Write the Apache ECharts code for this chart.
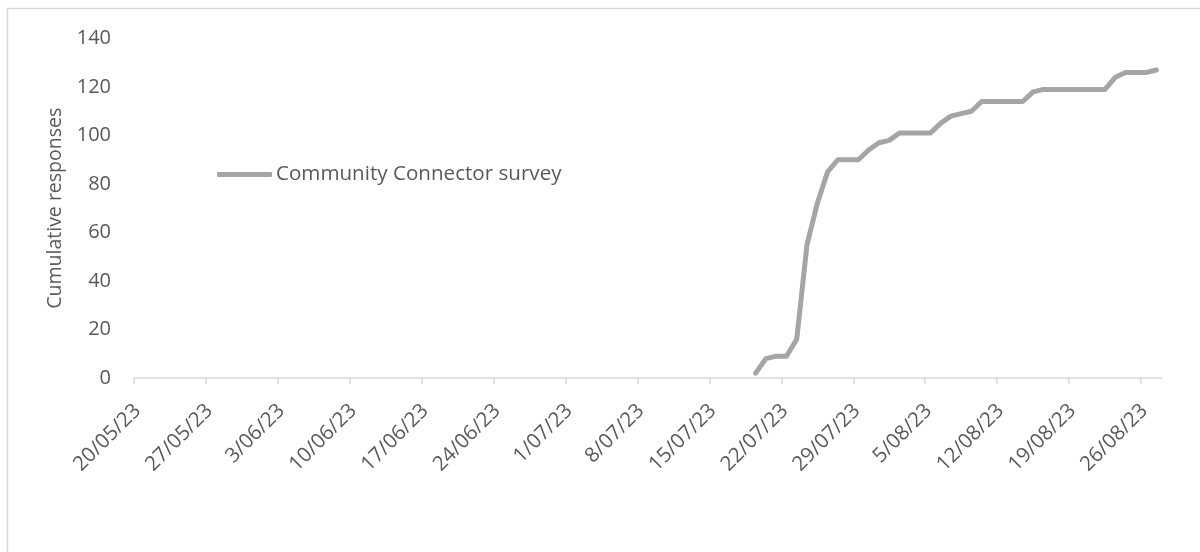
<!DOCTYPE html>
<html>
<head>
<meta charset="utf-8">
<script src="https://cdn.jsdelivr.net/npm/echarts@6/dist/echarts.min.js"></script>
<style>
  html, body { margin: 0; padding: 0; background: #fff; }
  #chart { width: 1200px; height: 552px; }
</style>
</head>
<body>
<div id="chart"></div>
<script>
// ---- data ----
const seriesName = 'Community Connector survey';
const axisStart = '20/05/23';
const axisDays = 100;
const tickStepDays = 7;
const tickLabels = ['20/05/23','27/05/23','3/06/23','10/06/23','17/06/23','24/06/23','1/07/23','8/07/23','15/07/23','22/07/23','29/07/23','5/08/23','12/08/23','19/08/23','26/08/23'];
const dates = ['19/07/23','20/07/23','21/07/23','22/07/23','23/07/23','24/07/23','25/07/23','26/07/23','27/07/23','28/07/23','29/07/23','30/07/23','31/07/23','1/08/23','2/08/23','3/08/23','4/08/23','5/08/23','6/08/23','7/08/23','8/08/23','9/08/23','10/08/23','11/08/23','12/08/23','13/08/23','14/08/23','15/08/23','16/08/23','17/08/23','18/08/23','19/08/23','20/08/23','21/08/23','22/08/23','23/08/23','24/08/23','25/08/23','26/08/23','27/08/23'];
const responses = [2,8,9,9,16,55,72,85,90,90,90,94,97,98,101,101,101,101,105,108,109,110,114,114,114,114,114,118,119,119,119,119,119,119,119,124,126,126,126,127];
const yTicks = [0,20,40,60,80,100,120,140];

// ---- helpers ----
function dayNum(s) {
  const p = s.split('/').map(Number);
  return Date.UTC(2000 + p[2], p[1] - 1, p[0]) / 86400000;
}
const d0 = dayNum(axisStart);
const lineData = dates.map((d, i) => [dayNum(d) - d0 + 0.5, responses[i]]);
const tickValues = tickLabels.map((_, i) => i * tickStepDays);

const FONT = '"Open Sans", sans-serif';
const TXT = '#595959';

const chart = echarts.init(document.getElementById('chart'), null, { renderer: 'canvas' });
chart.setOption({
  animation: false,
  backgroundColor: '#ffffff',
  graphic: [{
    type: 'rect',
    shape: { x: 7.5, y: 8.5, width: 1400, height: 800 },
    style: { fill: 'none', stroke: '#D9D9D9', lineWidth: 1.5 },
    silent: true
  }],
  grid: { left: 134, right: 38.5, top: 38.5, bottom: 174, containLabel: false },
  legend: {
    left: 217, top: 164, padding: 0,
    itemWidth: 55, itemHeight: 5, itemGap: 10,
    icon: 'roundRect',
    data: [{ name: seriesName, itemStyle: { color: '#A5A5A5' } }],
    textStyle: { fontFamily: FONT, fontSize: 20.6, color: TXT, padding: [0, 0, 0, -1] }
  },
  xAxis: {
    type: 'value',
    min: 0, max: axisDays,
    interval: tickStepDays,
    axisLine: { show: true, lineStyle: { color: '#D9D9D9', width: 1.5 } },
    axisTick: { show: true, length: 6, lineStyle: { color: '#D9D9D9', width: 1.5 }, customValues: tickValues },
    splitLine: { show: false },
    axisLabel: {
      customValues: tickValues,
      rotate: 45, margin: 33,
      padding: [0, -5, 0, 0],
      fontFamily: FONT, fontSize: 20.5, color: TXT,
      formatter: v => tickLabels[Math.round(v / tickStepDays)] || ''
    }
  },
  yAxis: {
    type: 'value',
    min: yTicks[0], max: yTicks[yTicks.length - 1], interval: 20,
    name: 'Cumulative responses',
    nameLocation: 'middle', nameGap: 66,
    nameTextStyle: { fontFamily: FONT, fontSize: 19.5, color: TXT },
    axisLine: { show: false }, axisTick: { show: false },
    splitLine: { show: false },
    axisLabel: { margin: 23, fontFamily: FONT, fontSize: 20, color: TXT }
  },
  series: [{
    name: seriesName,
    type: 'line',
    data: lineData,
    showSymbol: false,
    symbol: 'none',
    lineStyle: { color: '#A5A5A5', width: 5, cap: 'round', join: 'round' },
    itemStyle: { color: '#A5A5A5' }
  }]
});
</script>
</body>
</html>
